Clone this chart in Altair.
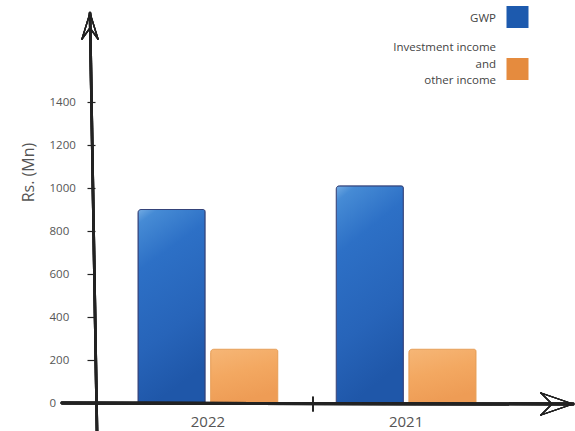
import altair as alt
import pandas as pd

years = ["2022", "2022", "2021", "2021"]
series = ["GWP", "Investment income and other income",
          "GWP", "Investment income and other income"]
values = [900, 250, 1010, 250]
y_ticks = [0, 200, 400, 600, 800, 1000, 1200, 1400]
year_order = ["2022", "2021"]
series_order = ["GWP", "Investment income and other income"]
legend_labels = ["GWP", "Investment income\nand\nother income"]

df = pd.DataFrame({"year": years, "series": series, "value": values})
leg_df = pd.DataFrame({"series": series_order, "label": legend_labels})

FONT = "Open Sans"
W, H = 424, 387

legend_color_scale = alt.Scale(domain=series_order, range=["#1d5aae", "#e58b3e"])

x_enc = alt.X("year:N", sort=year_order,
              scale=alt.Scale(paddingInner=0.295, paddingOuter=0.217),
              axis=alt.Axis(title=None, domain=False, ticks=False, tickSize=0,
                            labelFontSize=15, labelColor="#555555",
                            labelFont=FONT, labelPadding=11, labelAngle=0))
y_enc = alt.Y("value:Q",
              scale=alt.Scale(domain=[0, 1800], nice=False),
              axis=alt.Axis(title="Rs. (Mn)", values=y_ticks, grid=False,
                            format="d",
                            domain=False, tickSize=8, tickColor="#222222",
                            tickWidth=1.2, labelAlign="left", labelPadding=38,
                            labelFontSize=11.5, labelColor="#555555",
                            labelFont=FONT, titleFont=FONT, titleFontSize=16,
                            titleFontWeight="normal", titleColor="#555555",
                            titleAngle=270, titleX=-62, titleY=156,
                            titleAlign="center", titleBaseline="alphabetic"))
xoff_enc = alt.XOffset("series:N", sort=series_order,
                       scale=alt.Scale(domain=series_order,
                                       paddingInner=0.076, paddingOuter=0))

blue_fill = alt.Gradient(
    gradient="linear", x1=0, y1=0, x2=0.25, y2=1,
    stops=[alt.GradientStop(offset=0, color="#74ace3"),
           alt.GradientStop(offset=0.07, color="#468bd5"),
           alt.GradientStop(offset=0.3, color="#2d70c6"),
           alt.GradientStop(offset=0.7, color="#2764b9"),
           alt.GradientStop(offset=1, color="#1f57a9")])
orange_fill = alt.Gradient(
    gradient="linear", x1=0, y1=0, x2=0.3, y2=1,
    stops=[alt.GradientStop(offset=0, color="#f6b676"),
           alt.GradientStop(offset=0.5, color="#f3a861"),
           alt.GradientStop(offset=1, color="#ee9c55")])


def bar_layer(name, fill, stroke):
    return alt.Chart(df).transform_filter(alt.datum.series == name).mark_bar(
        fill=fill, stroke=stroke, strokeWidth=1,
        cornerRadiusTopLeft=3, cornerRadiusTopRight=2).encode(
        x=x_enc, xOffset=xoff_enc, y=y_enc)


bars = [bar_layer(series_order[0], blue_fill, "#34437a"),
        bar_layer(series_order[1], orange_fill, "#e8a05a")]


def legend_entry(name, sq_y, txt_y):
    base = alt.Chart(leg_df).transform_filter(alt.datum.series == name)
    sq = base.mark_square(size=484, opacity=1).encode(
        x=alt.value(422.5), y=alt.value(sq_y),
        color=alt.Color("series:N", scale=legend_color_scale, legend=None))
    tx = base.mark_text(align="right", baseline="middle", font=FONT,
                        fontSize=11.5, color="#444444", lineBreak="\n",
                        lineHeight=16.5).encode(
        x=alt.value(401), y=alt.value(txt_y), text="label:N")
    return [sq, tx]


def seg(x1, y1, x2, y2, w=1.3, color="#222222"):
    return alt.Chart(df).mark_rule(strokeWidth=w, color=color,
                                   strokeCap="round").encode(
        x=alt.value(x1), y=alt.value(y1), x2=alt.value(x2), y2=alt.value(y2))


deco = [
    # y axis with open arrowhead
    seg(-5, -3, 2, 415, 2.6),
    seg(-5, -3, -13, 23), seg(-5, -3, 3, 23),
    seg(-13, 23, -5, 12), seg(3, 23, -5, 12),
    # x axis with open arrowhead
    seg(-33, 387, 478, 388, 3),
    seg(478, 388, 446, 377), seg(478, 388, 446, 399),
    seg(446, 377, 457, 388), seg(446, 399, 457, 388),
    # small separator tick between the years
    seg(218, 381, 218, 395, 1.2),
]

legend_layers = legend_entry(series_order[0], 1, 3) + \
    legend_entry(series_order[1], 53, 32)

chart = alt.layer(*bars, *deco, *legend_layers).properties(
    width=W, height=H,
    autosize=alt.AutoSizeParams(type="none"),
    padding={"left": 95, "top": 16, "right": 56, "bottom": 28},
).configure_view(stroke=None)

chart.save("out.html", embed_options={"renderer": "svg", "actions": False})
